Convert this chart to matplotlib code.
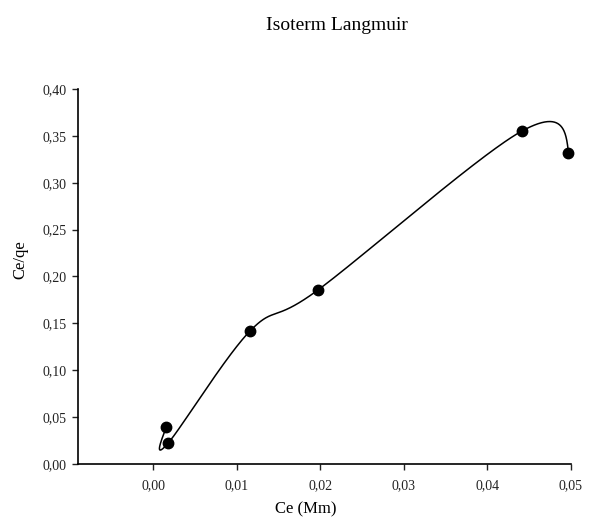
import numpy as np
import matplotlib
matplotlib.use("Agg")
import matplotlib.pyplot as plt
from matplotlib.ticker import FuncFormatter

# values
ce = [0.00155, 0.00176, 0.0116, 0.0197, 0.0441, 0.0497]
ce_qe = [0.039, 0.022, 0.142, 0.1855, 0.355, 0.332]

x_ticks = [0.00, 0.01, 0.02, 0.03, 0.04, 0.05]
y_ticks = [0.00, 0.05, 0.10, 0.15, 0.20, 0.25, 0.30, 0.35, 0.40]


def spline_curve(p, n_seg=80):
    """Uniform Catmull-Rom curve through points p (n x 2), natural-style ends."""
    n = len(p)
    m = np.zeros_like(p)
    m[1:-1] = (p[2:] - p[:-2]) / 2
    m[0] = 1.5 * (p[1] - p[0]) - 0.5 * m[1]
    m[-1] = 1.5 * (p[-1] - p[-2]) - 0.5 * m[-2]
    s = np.linspace(0, 1, n_seg)[:, None]
    h00 = 2 * s**3 - 3 * s**2 + 1
    h10 = s**3 - 2 * s**2 + s
    h01 = -2 * s**3 + 3 * s**2
    h11 = s**3 - s**2
    segs = [h00 * p[i] + h10 * m[i] + h01 * p[i + 1] + h11 * m[i + 1] for i in range(n - 1)]
    return np.vstack(segs)


plt.rcParams["font.family"] = ["Liberation Serif", "DejaVu Serif"]

fig = plt.figure(figsize=(6.11, 5.25), dpi=100)
ax = fig.add_axes([0.1277, 0.1162, 0.8068, 0.7143])

pts = np.column_stack([ce, ce_qe])
curve = spline_curve(pts)
ax.plot(curve[:, 0], curve[:, 1], color="black", lw=1.1, clip_on=False)
ax.plot(ce, ce_qe, "o", color="black", ms=7.5, clip_on=False)

ax.set_xlim(-0.009, 0.05)
ax.set_ylim(0, 0.40)
ax.set_xticks(x_ticks)
ax.set_yticks(y_ticks)
comma = FuncFormatter(lambda v, p: f"{v:.2f}".replace(".", ","))
ax.xaxis.set_major_formatter(comma)
ax.yaxis.set_major_formatter(comma)
ax.spines["top"].set_visible(False)
ax.spines["right"].set_visible(False)
for s in ("left", "bottom"):
    ax.spines[s].set_linewidth(1.2)
ax.tick_params(direction="out", length=4, width=1, labelsize=10, colors="#222222")
ax.tick_params(axis="x", pad=7)
ax.tick_params(axis="y", pad=4)

fig.text(0.552, 0.952, "Isoterm Langmuir", ha="center", va="center", fontsize=14)
fig.text(0.5, 0.015, "Ce (Mm)", ha="center", va="bottom", fontsize=12)
fig.text(0.033, 0.505, "Ce/qe", ha="center", va="center", rotation=90, fontsize=12)

fig.savefig("out.png", dpi=100)
